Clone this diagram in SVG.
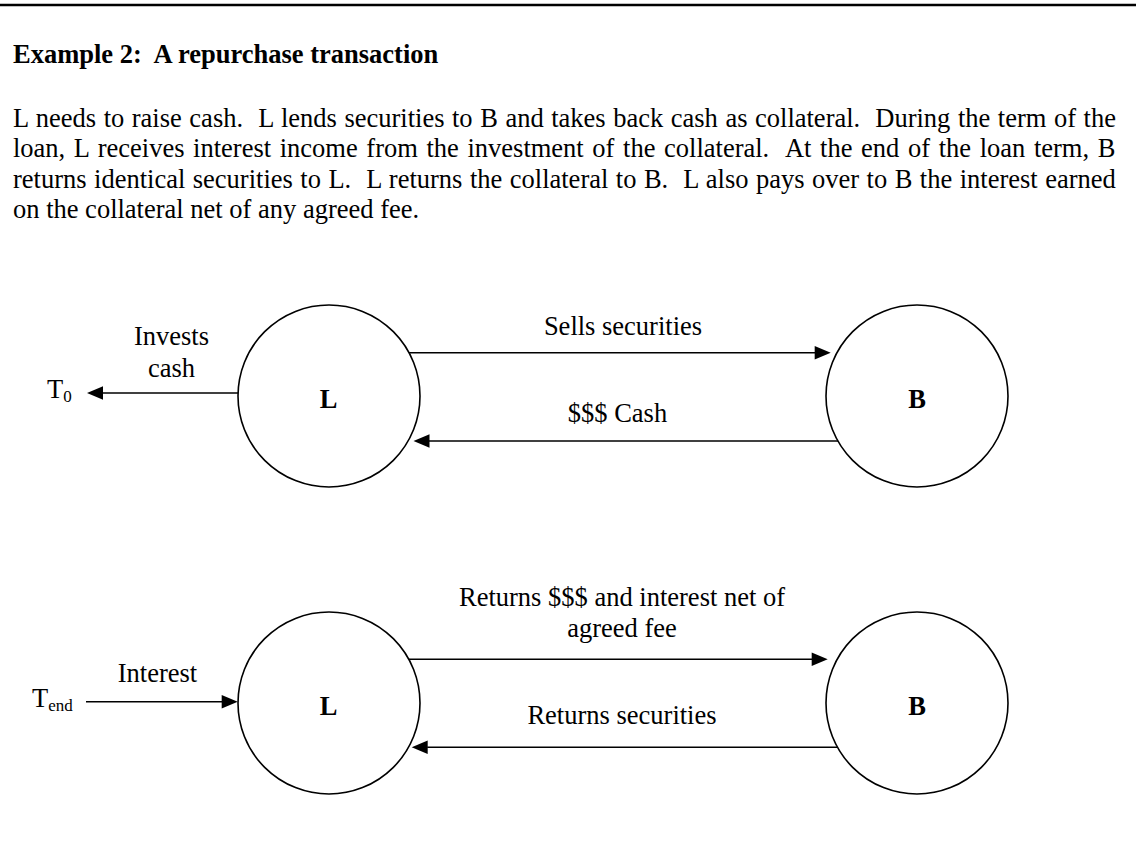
<svg xmlns="http://www.w3.org/2000/svg" width="1136" height="841" viewBox="0 0 1136 841">
<style>
  text { font-family: "Liberation Serif", "Times New Roman", serif; font-size: 26.5px; fill: #000; }
  .b { font-weight: bold; }
  .c { text-anchor: middle; }
  .sub { font-size: 17px; }
  .node { fill: #fff; stroke: #000; stroke-width: 1.6; }
  .conn { stroke: #000; stroke-width: 1.6; fill: none; marker-end: url(#ah); }
</style>
<defs>
  <marker id="ah" markerUnits="userSpaceOnUse" markerWidth="20" markerHeight="16" viewBox="-1 -8 18 16" refX="0" refY="0" orient="auto">
    <path d="M-0.5,-6.7 L15.5,0 L-0.5,6.7 Z" fill="#000"/>
  </marker>
</defs>
<rect width="1136" height="841" fill="#fff"/>
<line x1="0" y1="5" x2="1136" y2="5" stroke="#000" stroke-width="2.6"/>

<g id="header">
  <text class="b" x="13" y="63" xml:space="preserve">Example 2:  A repurchase transaction</text>
  <text x="13" y="127" xml:space="preserve" word-spacing="0.92">L needs to raise cash.  L lends securities to B and takes back cash as collateral.  During the term of the</text>
  <text x="13" y="157" xml:space="preserve" word-spacing="1.99">loan, L receives interest income from the investment of the collateral.  At the end of the loan term, B</text>
  <text x="13" y="187.5" xml:space="preserve" word-spacing="0.85">returns identical securities to L.  L returns the collateral to B.  L also pays over to B the interest earned</text>
  <text x="13" y="218" xml:space="preserve">on the collateral net of any agreed fee.</text>
</g>

<g id="connectors">
  <line class="conn" x1="238" y1="393" x2="102.5" y2="393"/>
  <line class="conn" x1="408" y1="352.7" x2="815.2" y2="352.7"/>
  <line class="conn" x1="838" y1="441" x2="429" y2="441"/>
  <line class="conn" x1="86" y1="701.7" x2="222.2" y2="701.7"/>
  <line class="conn" x1="408" y1="659.3" x2="812.2" y2="659.3"/>
  <line class="conn" x1="837" y1="747.3" x2="427.2" y2="747.3"/>
</g>

<g id="node-L-start">
  <circle class="node" cx="329" cy="396" r="91"/>
  <text class="b c" x="328.5" y="408">L</text>
</g>
<g id="node-B-start">
  <circle class="node" cx="917" cy="396" r="91"/>
  <text class="b c" x="917" y="408">B</text>
</g>
<g id="node-L-end">
  <circle class="node" cx="329" cy="703" r="91"/>
  <text class="b c" x="328.5" y="715">L</text>
</g>
<g id="node-B-end">
  <circle class="node" cx="917" cy="703" r="91"/>
  <text class="b c" x="917" y="715">B</text>
</g>

<g id="T0">
  <text x="47" y="398">T<tspan class="sub" dy="4">0</tspan></text>
</g>
<g id="Tend">
  <text x="32" y="706.7">T<tspan class="sub" dy="4">end</tspan></text>
</g>

<g id="labels">
  <text class="c" x="171.5" y="345">Invests</text>
  <text class="c" x="171.5" y="377">cash</text>
  <text class="c" x="623" y="335">Sells securities</text>
  <text class="c" x="617.5" y="421.7">$$$ Cash</text>
  <text class="c" x="157.5" y="681.7">Interest</text>
  <text class="c" x="622" y="606">Returns $$$ and interest net of</text>
  <text class="c" x="622" y="636.7">agreed fee</text>
  <text class="c" x="622" y="724">Returns securities</text>
</g>
</svg>
